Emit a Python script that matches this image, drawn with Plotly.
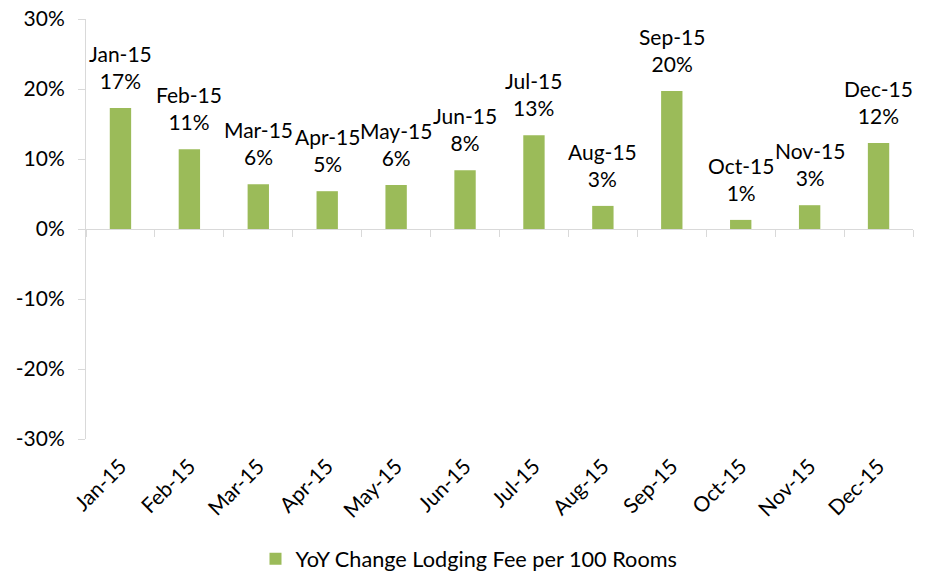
import plotly.graph_objects as go

months = ["Jan-15", "Feb-15", "Mar-15", "Apr-15", "May-15", "Jun-15",
          "Jul-15", "Aug-15", "Sep-15", "Oct-15", "Nov-15", "Dec-15"]
yoy_change = [0.173, 0.114, 0.064, 0.054, 0.063, 0.084,
              0.134, 0.033, 0.197, 0.013, 0.034, 0.123]
series_name = "YoY Change Lodging Fee per 100 Rooms"
y_ticks = [-0.3, -0.2, -0.1, 0.0, 0.1, 0.2, 0.3]
y_tick_labels = ["-30%", "-20%", "-10%", "0%", "10%", "20%", "30%"]

FONT = "Lato"
FS = 21
GREEN = "#9bbb59"
AXIS = "#d9d9d9"

fig = go.Figure()
fig.add_trace(go.Bar(
    x=months, y=yoy_change, name=series_name,
    marker=dict(color=GREEN, line=dict(width=0)),
    width=0.31, showlegend=True, hoverinfo="skip",
))
# invisible trace to carry the zero-line category axis
fig.add_trace(go.Scatter(
    x=months, y=[0] * len(months), xaxis="x2", mode="markers",
    marker=dict(opacity=0), showlegend=False, hoverinfo="skip",
))

for m, v in zip(months, yoy_change):
    fig.add_annotation(
        x=m, y=v, text=f"{m}<br>{round(v * 100):.0f}%",
        showarrow=False, yanchor="bottom", yshift=13,
        font=dict(family=FONT, size=FS, color="#000000"),
    )

fig.update_layout(
    width=922, height=567,
    margin=dict(l=78, r=17, t=11, b=136, autoexpand=False),
    paper_bgcolor="white", plot_bgcolor="white",
    font=dict(family=FONT, size=FS, color="#000000"),
    xaxis=dict(
        type="category", categoryarray=months, range=[-0.5, 11.5],
        showline=False, showgrid=False, zeroline=False, ticks="",
        tickangle=-45, automargin=False, ticklabelstandoff=10,
        tickfont=dict(family=FONT, size=FS, color="#000000"),
    ),
    xaxis2=dict(
        type="category", categoryarray=months, range=[-0.5, 11.5],
        overlaying="x", anchor="free", position=0.5, side="bottom",
        showline=True, linecolor=AXIS, linewidth=1,
        ticks="outside", tickson="boundaries", ticklen=7, tickcolor=AXIS,
        showticklabels=False, showgrid=False, zeroline=False, automargin=False,
    ),
    yaxis=dict(
        range=[-0.3, 0.3], tickvals=y_ticks, ticktext=y_tick_labels,
        showline=True, linecolor=AXIS, linewidth=1,
        ticks="outside", ticklen=7, tickcolor=AXIS,
        showgrid=False, zeroline=False, automargin=False,
        ticklabeloverflow="allow", ticklabelstandoff=9,
        tickfont=dict(family=FONT, size=FS, color="#000000"),
    ),
    legend=dict(
        orientation="h", xref="container", yref="container",
        x=0.5, xanchor="center", y=0.028, yanchor="middle",
        font=dict(family=FONT, size=21.7, color="#000000"),
    ),
)

fig.write_html("out.html")
